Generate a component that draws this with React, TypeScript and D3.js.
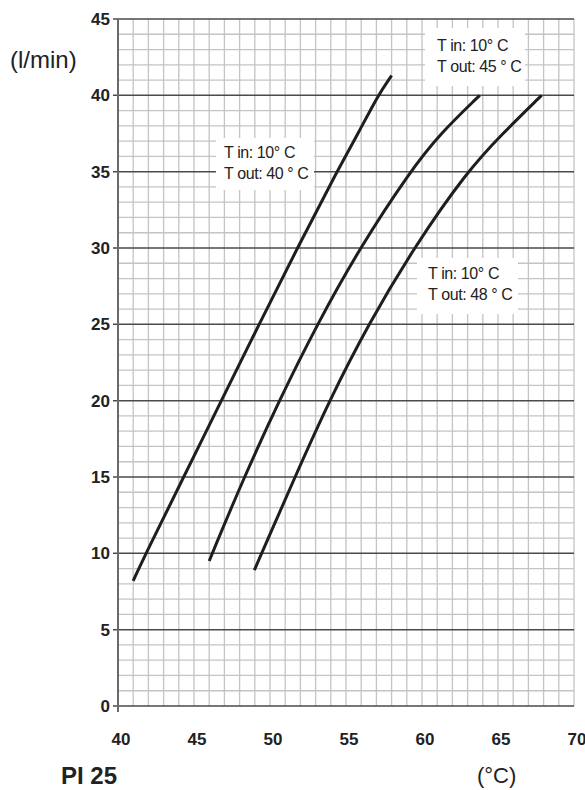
import React from "react";
import * as d3 from "d3";

const W = 585;
const H = 790;

const xTicks = [40, 45, 50, 55, 60, 65, 70];
const yTicks = [0, 5, 10, 15, 20, 25, 30, 35, 40, 45];

// Tout 40 °C
const curve40X = [41.0, 41.84, 44.32, 46.8, 49.28, 51.8, 54.4, 55.8, 57.1, 58.0];
const curve40Y = [8.2, 10, 15, 20, 25, 30, 35, 37.5, 40, 41.3];
// Tout 45 °C
const curve45X = [46.0, 46.2, 48.3, 50.6, 53.1, 55.9, 59.2, 61.2, 63.8];
const curve45Y = [9.5, 10, 15, 20, 25, 30, 35, 37.5, 40];
// Tout 48 °C
const curve48X = [48.97, 49.45, 51.64, 53.9, 56.47, 59.45, 62.95, 65.3, 67.87];
const curve48Y = [8.9, 10, 15, 20, 25, 30, 35, 37.5, 40];

const labelLines1 = ["T in: 10° C", "T out: 40 ° C"];
const labelLines2 = ["T in: 10° C", "T out: 45 ° C"];
const labelLines3 = ["T in: 10° C", "T out: 48 ° C"];

const FONT = "'Liberation Sans', Arial, Helvetica, sans-serif";

export default function App() {
  const x = d3.scaleLinear().domain([40, 70]).range([118, 574]);
  const y = d3.scaleLinear().domain([0, 45]).range([706, 19]);

  const line = d3
    .line<[number, number]>()
    .x((d) => x(d[0]))
    .y((d) => y(d[1]))
    .curve(d3.curveBasis);

  const series = [
    curve40X.map((v, i) => [v, curve40Y[i]] as [number, number]),
    curve45X.map((v, i) => [v, curve45Y[i]] as [number, number]),
    curve48X.map((v, i) => [v, curve48Y[i]] as [number, number]),
  ];

  const minorX = d3.range(41, 71, 1);
  const minorY = d3.range(1, 45, 1).filter((v) => v % 5 !== 0);

  const labels = [
    { lines: labelLines1, box: [216, 138, 98, 52], tx: 224, ty: 158 },
    { lines: labelLines2, box: [425, 28, 100, 58], tx: 437, ty: 51 },
    { lines: labelLines3, box: [417, 258, 101, 56], tx: 428, ty: 279 },
  ];

  return (
    <svg
      width={W}
      height={H}
      style={{ position: "absolute", left: 0, top: 0, background: "#fff" }}
      fontFamily={FONT}
    >
      <rect x={0} y={0} width={W} height={H} fill="#fff" />
      {minorX.map((v) => (
        <line
          key={"vx" + v}
          x1={x(v)}
          x2={x(v)}
          y1={y(45)}
          y2={y(0)}
          stroke="#c4c4c4"
          strokeWidth={1.3}
        />
      ))}
      {minorY.map((v) => (
        <line
          key={"hy" + v}
          x1={x(40)}
          x2={x(70)}
          y1={y(v)}
          y2={y(v)}
          stroke="#c4c4c4"
          strokeWidth={1.3}
        />
      ))}
      {yTicks.map((v) => (
        <line
          key={"my" + v}
          x1={x(40) - 5}
          x2={x(70)}
          y1={y(v)}
          y2={y(v)}
          stroke="#4a4a4a"
          strokeWidth={1.5}
        />
      ))}
      <line x1={x(40)} x2={x(40)} y1={y(45)} y2={y(0) + 6} stroke="#6a6a6a" strokeWidth={2} />

      {labels.map((l, i) => (
        <g key={"lb" + i}>
          <rect x={l.box[0]} y={l.box[1]} width={l.box[2]} height={l.box[3]} fill="#fff" />
          {l.lines.map((t, j) => (
            <text key={j} x={l.tx} y={l.ty + j * 21} fontSize={16} fill="#222" letterSpacing={-0.4}>
              {t}
            </text>
          ))}
        </g>
      ))}

      {series.map((s, i) => (
        <path
          key={"c" + i}
          d={line(s) || ""}
          fill="none"
          stroke="#1e1e1e"
          strokeWidth={3}
          strokeLinecap="butt"
        />
      ))}

      {yTicks.map((v) => (
        <text
          key={"yl" + v}
          x={110}
          y={y(v)}
          dy="0.36em"
          textAnchor="end"
          fontSize={17}
          fontWeight="bold"
          fill="#222"
        >
          {v}
        </text>
      ))}
      {xTicks.map((v) => (
        <text
          key={"xl" + v}
          x={x(v) + 3}
          y={745}
          textAnchor="middle"
          fontSize={17}
          fontWeight="bold"
          fill="#222"
        >
          {v}
        </text>
      ))}

      <text x={10} y={68} fontSize={24} fill="#222">
        (l/min)
      </text>
      <text x={117} y={784} textAnchor="end" fontSize={24} fontWeight="bold" fill="#222">
        PI 25
      </text>
      <text x={477} y={783} fontSize={22} fill="#222">
        (°C)
      </text>
    </svg>
  );
}
